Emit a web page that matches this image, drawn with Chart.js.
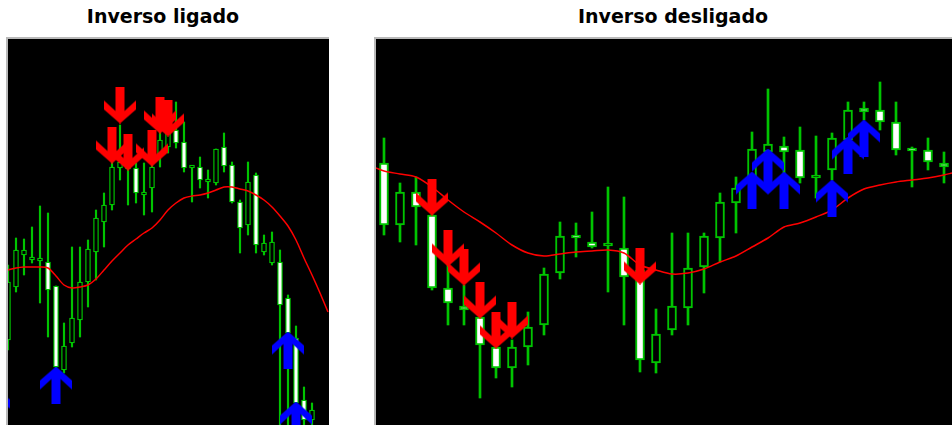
<!DOCTYPE html>
<html>
<head>
<meta charset="utf-8">
<script src="https://cdn.jsdelivr.net/npm/chart.js@4.4.0/dist/chart.umd.min.js"></script>
<style>
  body { margin: 0; width: 952px; height: 425px; background: #fff; position: relative; overflow: hidden; }
  .title { position: absolute; top: 5px; font-family: "DejaVu Sans", Verdana, sans-serif; font-weight: bold;
           font-size: 19px; text-align: center; color: #000; }
  .panel { position: absolute; top: 37px; border-left: 2px solid #b9b9b9; border-top: 2px solid #b9b9b9; background: #000; }
  .panel canvas { display: block; }
</style>
</head>
<body>
<div class="title" style="left:0;width:326px">Inverso ligado</div>
<div class="title" style="left:384px;width:578px">Inverso desligado</div>
<div class="panel" style="left:6px"><canvas id="left" width="321" height="386"></canvas></div>
<div class="panel" style="left:374px"><canvas id="right" width="576" height="386"></canvas></div>
<script>
// left panel ("Inverso ligado") candles, index = bar number
const leftOpen  = [85,138,170,165,164,163,139,55,82,105,143,173,203,220,257,256,257,230,237,270,278,295,283,257,258,243,242,278,260,223,200,250,173,162,163,127,87,25,5];
const leftClose = [143,175,175,167,166,135,58,79,107,143,176,207,220,258,263,258,232,232,258,285,292,282,257,258,245,245,276,259,223,197,243,180,182,183,120,92,22,5,15];
const leftHigh  = [160,187,186,198,219,212,139,102,178,178,185,215,232,265,300,258,262,262,262,295,295,323,303,258,268,255,276,292,263,225,263,252,190,193,175,130,99,38,22];
const leftLow   = [75,133,150,162,122,88,55,52,78,88,118,145,178,215,245,220,222,210,213,258,272,277,253,223,237,227,240,253,222,172,190,172,170,160,0,0,0,0,0];
const leftMa    = [155,157,158,158,158,157,149,140,137,138,140,146,155,164,172,180,186,192,197,205,215,222,227,229,230,232,235,238,238,236,234,230,225,218,209,199,185,167,150,132,113];
const leftSellBar   = [13,14,15,18,19,20];
const leftSellLevel = [280,320,273,277,310,307];
const leftBuyBar    = [-1.8,6,35,36];
const leftBuyLevel  = [21,40,75,5];

// right panel ("Inverso desligado")
const rightOpen  = [262,200,233,210,137,119,108,78,57,78,100,152,190,183,179,177,155,62,95,117,158,187,222,245,273,279,275,247,255,285,317,315,303,277,275,262];
const rightClose = [200,233,218,137,122,115,80,57,78,98,151,189,187,178,181,148,65,91,119,157,189,223,237,276,281,273,247,249,287,315,313,303,275,274,263,258];
const rightHigh  = [287,242,248,212,162,140,112,83,85,113,157,203,202,213,238,228,160,116,192,192,192,232,248,293,336,288,298,289,292,323,323,343,323,278,287,273];
const rightLow   = [190,183,180,135,100,100,27,47,38,60,90,146,168,177,133,100,53,52,90,100,132,163,192,225,245,250,242,227,245,275,305,295,270,238,255,242];
const rightMa    = [254,251,248,238,225,213,203,192,180,172,169,171,173,174,175,172,160,155,151,152,156,163,169,178,187,198,202,208,215,227,236,240,243,245,247,250];
const rightMaEdge = [257, 252];   // average at the left and right border of the panel
const rightSellBar   = [3,4,5,6,7,8,16];
const rightSellLevel = [228,177,158,125,95,105,159];
const rightBuyBar    = [23,24,25,28,29,30];
const rightBuyLevel  = [235,258,235,227,270,287];

const GREEN = '#00c400';

function arrow(color, down) {
  const c = document.createElement('canvas');
  c.width = 32; c.height = 37;
  const g = c.getContext('2d');
  if (down) { g.translate(0, 37); g.scale(1, -1); }
  g.fillStyle = color;
  g.beginPath();
  g.moveTo(16, 0); g.lineTo(32, 14); g.lineTo(32, 23); g.lineTo(20.5, 12.5);
  g.lineTo(20.5, 37); g.lineTo(11.5, 37); g.lineTo(11.5, 12.5);
  g.lineTo(0, 23); g.lineTo(0, 14);
  g.closePath(); g.fill();
  return c;
}
const sellIcon = arrow('#ff0000', true);
const buyIcon = arrow('#0000ff', false);

function points(bars, levels) {
  return bars.map((b, i) => ({ x: b, y: levels[i] }));
}

function candleChart(id, p) {
  const wicks = p.high.map((h, i) => ({ x: i, y: [p.low[i], h] }));
  const bodies = p.open.map((o, i) => ({ x: i, y: [o, p.close[i]] }));
  const fills = p.open.map((o, i) => (p.close[i] < o ? '#ffffff' : '#000000'));
  let ma = p.ma.map((v, i) => ({ x: i, y: v }));
  if (p.maEdge) {
    ma = [{ x: p.xMin, y: p.maEdge[0] }, ...ma, { x: p.xMax, y: p.maEdge[1] }];
  }
  new Chart(document.getElementById(id), {
    type: 'bar',
    data: {
      datasets: [
        { type: 'line', data: points(p.sellBar, p.sellLevel), showLine: false,
          pointStyle: sellIcon, pointRadius: 20, clip: false, order: 0 },
        { type: 'line', data: points(p.buyBar, p.buyLevel), showLine: false,
          pointStyle: buyIcon, pointRadius: 20, clip: false, order: 0 },
        { type: 'line', data: ma, borderColor: '#ff0000',
          borderWidth: 1.5, pointRadius: 0, tension: 0.3, order: 1 },
        { data: bodies, backgroundColor: fills, borderColor: GREEN, borderWidth: p.border,
          borderSkipped: false, barThickness: p.body, grouped: false, minBarLength: 3, order: 2 },
        { data: wicks, backgroundColor: GREEN, borderWidth: 0,
          barThickness: p.wick, grouped: false, order: 3 }
      ]
    },
    options: {
      responsive: false,
      animation: false,
      devicePixelRatio: 1,
      layout: { padding: 0, autoPadding: false },
      plugins: { legend: { display: false }, tooltip: { enabled: false } },
      scales: {
        x: { type: 'linear', display: false, offset: false, min: p.xMin, max: p.xMax },
        y: { display: false, min: 0, max: 386 }
      }
    }
  });
}

candleChart('left', {
  open: leftOpen, close: leftClose, high: leftHigh, low: leftLow, ma: leftMa,
  sellBar: leftSellBar, sellLevel: leftSellLevel, buyBar: leftBuyBar, buyLevel: leftBuyLevel,
  xMin: 0, xMax: 40.125, body: 5, wick: 1.5, border: 1.3
});
candleChart('right', {
  open: rightOpen, close: rightClose, high: rightHigh, low: rightLow, ma: rightMa, maEdge: rightMaEdge,
  sellBar: rightSellBar, sellLevel: rightSellLevel, buyBar: rightBuyBar, buyLevel: rightBuyLevel,
  xMin: -0.5, xMax: 35.5, body: 9, wick: 2, border: 2
});
</script>
</body>
</html>
